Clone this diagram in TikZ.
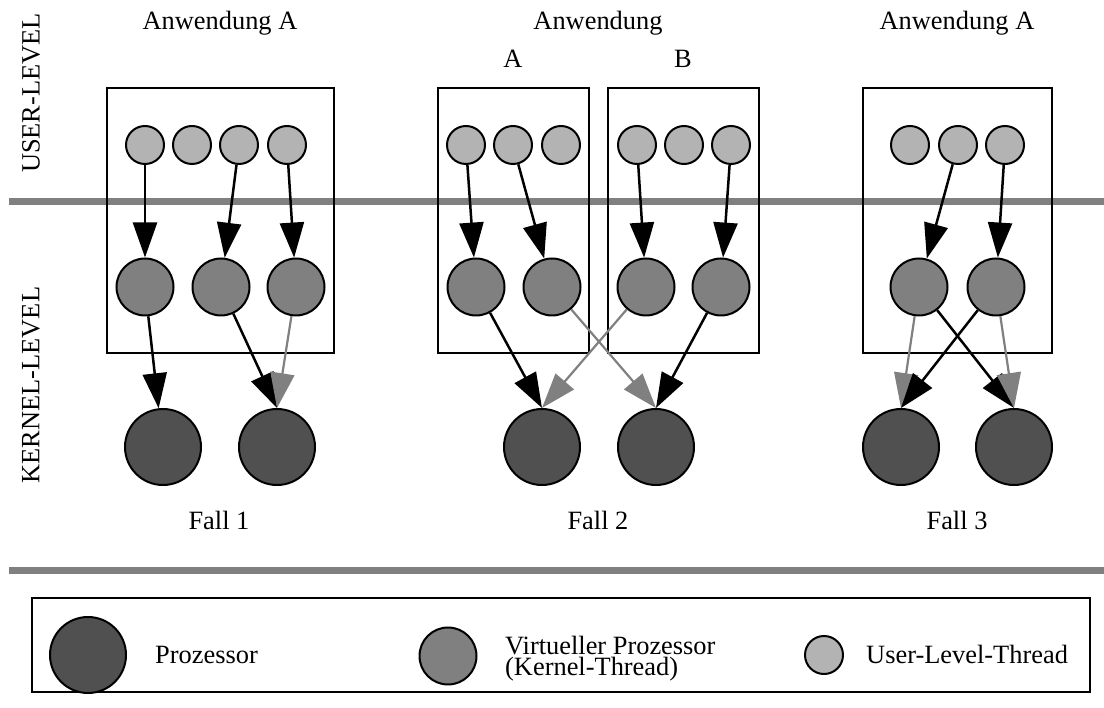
\documentclass[tikz,border=0pt]{standalone}
\usepackage{fontspec}
\setmainfont{Liberation Serif}
\usetikzlibrary{arrows.meta}
\definecolor{ulc}{HTML}{B3B3B3}
\definecolor{klc}{HTML}{808080}
\definecolor{prc}{HTML}{505050}
\definecolor{barc}{HTML}{808080}
\begin{document}
\begin{tikzpicture}[x=1pt,y=-1pt,
  ut/.style={circle,draw,line width=2pt,fill=ulc,minimum size=38pt,inner sep=0pt},
  kt/.style={circle,draw,line width=2pt,fill=klc,minimum size=57pt,inner sep=0pt},
  pr/.style={circle,draw,line width=2pt,fill=prc,minimum size=76pt,inner sep=0pt},
  lbl/.style={font=\fontsize{26.4}{26.4}\selectfont,inner sep=0pt,anchor=base},
  rlbl/.style={font=\fontsize{26.4}{26.4}\selectfont,inner sep=0pt,rotate=90,anchor=center},
  appbox/.style={draw,line width=2pt},
  bar/.style={draw=barc,line width=7pt},
  ba/.style={-{Triangle[length=35pt,width=24pt]},line width=2.5pt},
  ga/.style={-{Triangle[length=35pt,width=24pt]},line width=2.2pt,color=klc}]
\useasboundingbox (0,0) rectangle (1104,708);

% bars
\coordinate (b1l) at (9,201.5); \coordinate (b1r) at (1104,201.5);
\coordinate (b2l) at (9,570.5); \coordinate (b2r) at (1104,570.5);
\draw[bar] (b1l) -- (b1r);
\draw[bar] (b2l) -- (b2r);

% level labels
\node[rlbl] (ul) at (31,93) {USER-LEVEL};
\node[rlbl] (kl) at (31,385) {KERNEL-LEVEL};

% boxes
\draw[appbox] (107,88) rectangle (334,353);
\draw[appbox] (438,88) rectangle (589,353);
\draw[appbox] (608,88) rectangle (759,353);
\draw[appbox] (863,88) rectangle (1052,353);

% titles
\node[lbl] (t1) at (220,30) {Anwendung A};
\node[lbl] (t2) at (598,30) {Anwendung};
\node[lbl] (t2a) at (513,68) {A};
\node[lbl] (t2b) at (683,68) {B};
\node[lbl] (t3) at (957,30) {Anwendung A};
\node[lbl] (c1) at (219,530) {Fall 1};
\node[lbl] (c2) at (598,530) {Fall 2};
\node[lbl] (c3) at (957,530) {Fall 3};

% Fall 1
\node[ut] (f1u1) at (145,145) {};
\node[ut] (f1u2) at (192,145) {};
\node[ut] (f1u3) at (239,145) {};
\node[ut] (f1u4) at (287,145) {};
\node[kt] (f1k1) at (145,287) {};
\node[kt] (f1k2) at (221,287) {};
\node[kt] (f1k3) at (296,287) {};
\node[pr] (f1p1) at (163,447) {};
\node[pr] (f1p2) at (277,447) {};
\draw[ba] (f1u1) -- (f1k1);
\draw[ba] (f1u3) -- (f1k2);
\draw[ba] (f1u4) -- (f1k3);
\draw[ba] (f1k1) -- (f1p1);
\draw[ba] (f1k2) -- (f1p2.north);
\draw[ga] (f1k3) -- (f1p2.north);

% Fall 2
\node[ut] (f2u1) at (466,145) {};
\node[ut] (f2u2) at (513,145) {};
\node[ut] (f2u3) at (561,145) {};
\node[ut] (f2u4) at (637,145) {};
\node[ut] (f2u5) at (684,145) {};
\node[ut] (f2u6) at (731,145) {};
\node[kt] (f2k1) at (476,287) {};
\node[kt] (f2k2) at (552,287) {};
\node[kt] (f2k3) at (646,287) {};
\node[kt] (f2k4) at (721,287) {};
\node[pr] (f2p1) at (542,447) {};
\node[pr] (f2p2) at (656,447) {};
\draw[ba] (f2u1) -- (f2k1);
\draw[ba] (f2u2) -- (f2k2);
\draw[ba] (f2u4) -- (f2k3);
\draw[ba] (f2u6) -- (f2k4);
\draw[ba] (f2k1) -- (f2p1.north);
\draw[ga] (f2k2) -- (f2p2.north);
\draw[ga] (f2k3) -- (f2p1.north);
\draw[ba] (f2k4) -- (f2p2.north);

% Fall 3
\node[ut] (f3u1) at (910,145) {};
\node[ut] (f3u2) at (958,145) {};
\node[ut] (f3u3) at (1005,145) {};
\node[kt] (f3k1) at (919,287) {};
\node[kt] (f3k2) at (996,287) {};
\node[pr] (f3p1) at (901,447) {};
\node[pr] (f3p2) at (1014,447) {};
\draw[ba] (f3u2) -- (f3k1);
\draw[ba] (f3u3) -- (f3k2);
\draw[ga] (f3k1) -- (f3p1.north);
\draw[ba] (f3k1) -- (f3p2.north);
\draw[ba] (f3k2) -- (f3p1.north);
\draw[ga] (f3k2) -- (f3p2.north);

% legend
\draw[appbox] (32,598) rectangle (1090,692);
\node[pr] (lp) at (88,655) {};
\node[lbl,anchor=base west] (lpt) at (155,663) {Prozessor};
\node[kt] (lk) at (448,656) {};
\node[lbl,anchor=base west,align=left,font=\fontsize{26.4}{21}\selectfont] (lkt) at (505,675) {Virtueller Prozessor\\(Kernel-Thread)};
\node[ut] (lu) at (824,655) {};
\node[lbl,anchor=base west] (lut) at (866,663) {User-Level-Thread};
\end{tikzpicture}
\end{document}
